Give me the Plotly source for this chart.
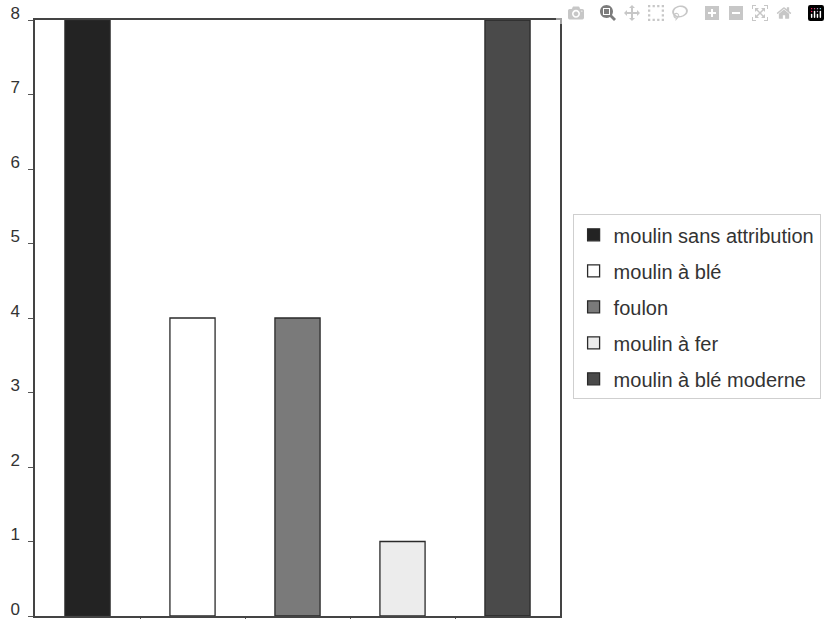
import plotly.graph_objects as go

series = ["moulin sans attribution", "moulin à blé", "foulon", "moulin à fer", "moulin à blé moderne"]
values = [8, 4, 4, 1, 8]
colors = ["#232323", "#ffffff", "#7a7a7a", "#ececec", "#4a4a4a"]
y_ticks = [0, 1, 2, 3, 4, 5, 6, 7, 8]

fig = go.Figure()
for i, (name, v, c) in enumerate(zip(series, values, colors)):
    fig.add_trace(go.Bar(
        x=[i], y=[v], name=name, width=0.43,
        marker=dict(color=c, line=dict(color="#2a2a2a", width=1.3)),
        legendgroup=name,
    ))

fig.update_layout(
    width=830, height=619,
    margin=dict(l=35, r=270, t=20, b=3),
    paper_bgcolor="white", plot_bgcolor="white",
    barmode="overlay",
    showlegend=True,
    font=dict(family="Liberation Sans, Arial, sans-serif", size=17, color="#333333"),
    legend=dict(
        x=1.024, xanchor="left", y=0.674, yanchor="top",
        bordercolor="#cfcfcf", borderwidth=1,
        font=dict(size=20, color="#333333"),
        tracegroupgap=7,
        itemwidth=30,
    ),
)
fig.update_xaxes(
    range=[-0.5, 4.5], showticklabels=False, automargin=False,
    tickvals=[0.5, 1.5, 2.5, 3.5], ticks="outside", ticklen=4, tickcolor="#555555",
    showline=True, linecolor="#444444", linewidth=1.5, mirror=True,
    showgrid=False, zeroline=False,
)
fig.update_yaxes(
    range=[0, 8], tickvals=y_ticks, ticks="outside", ticklen=5, tickcolor="#555555",
    showline=True, linecolor="#444444", linewidth=1.5, mirror=True,
    showgrid=False, zeroline=False, automargin=False,
    ticklabelposition="outside top",
    ticklabelstandoff=10, ticklabelshift=5, ticklabeloverflow="allow",
)

# remove the default 8px page margin so the figure fills the window exactly
fig.write_html("out.html", post_script="document.body.style.margin='0';document.body.style.overflow='hidden';")
